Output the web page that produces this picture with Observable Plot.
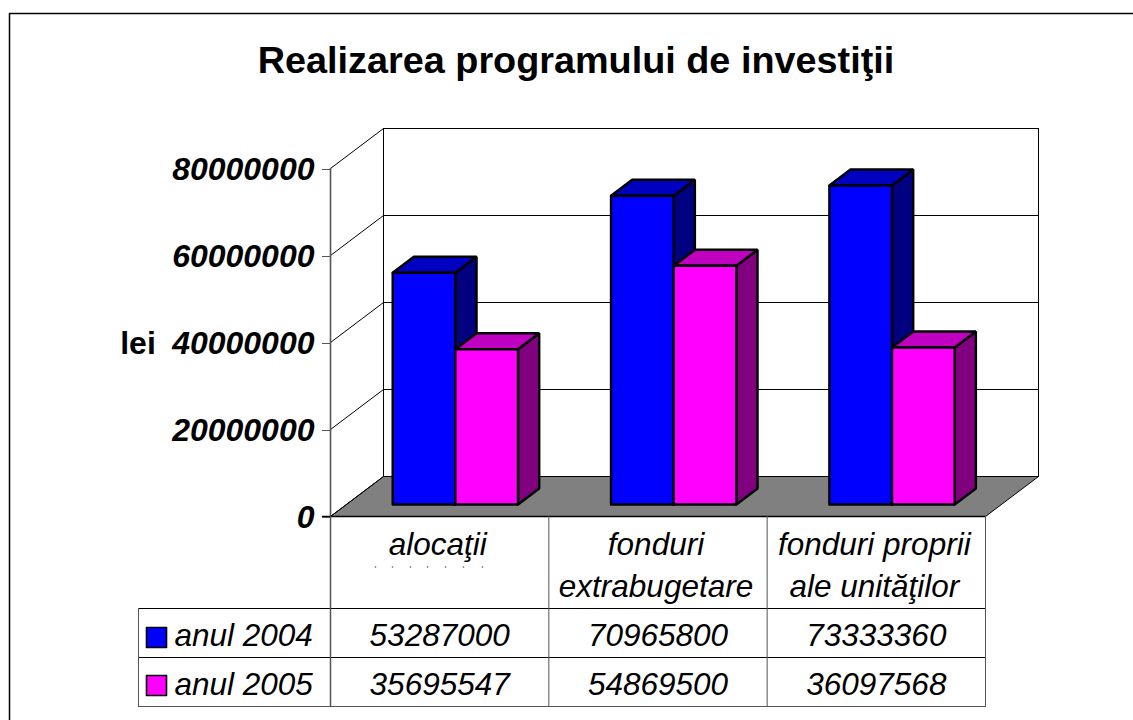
<!DOCTYPE html>
<html><head><meta charset="utf-8">
<script src="https://cdn.jsdelivr.net/npm/d3@7"></script>
<script src="https://cdn.jsdelivr.net/npm/@observablehq/plot@0.6"></script>
<style>html,body{margin:0;padding:0;background:#fff;overflow:hidden}svg{display:block}</style>
</head><body><div id="c"></div>
<script>
const categories = ["alocaţii", "fonduri\nextrabugetare", "fonduri proprii\nale unităţilor"];
const seriesNames = ["anul 2004", "anul 2005"];
const anul2004 = [53287000, 70965800, 73333360];
const anul2005 = [35695547, 54869500, 36097568];
const yTicks = [0, 20000000, 40000000, 60000000, 80000000];
const frontColors = ["#0000ff", "#ff00ff"];
const topColors = ["#0000c0", "#c000c0"];
const sideColors = ["#000080", "#800080"];

// chart scales: one x unit = one category, y = lei
const X0 = 330, X1 = 985, Y0 = 516, Y1 = 168;
const uX = d3.scaleLinear([X0, X1], [0, 3]);      // page px -> category units (table and furniture)
const uY = d3.scaleLinear([Y0, Y1], [0, 80000000]);
// oblique depth: depth 1 is the back wall
const depthX = uX(X0 + 53), depthY = uY(Y0 - 40);
const proj = (c, v, d) => ({x: c + d * depthX, y: v + d * depthY});
const barGap = 0.212, barW = 0.287, dFront = 0.3, dBack = 0.7;
const thin = {stroke: "#000", strokeWidth: 1};
const grey = {stroke: "#555", strokeWidth: 1};
const poly = (pts, o) => Plot.line([...pts, pts[0]], {x: "x", y: "y", ...o});
const seg = (pts, o) => Plot.line(pts, {x: "x", y: "y", ...o});
const P = (x, y) => ({x: uX(x), y: uY(y)});

const marks = [];
// outer frame
marks.push(seg([P(9, 720), P(9, 13), P(1133, 13)], {stroke: "#000", strokeWidth: 1.5}));
// floor
marks.push(poly([proj(0,0,0), proj(0,0,1), proj(3,0,1), proj(3,0,0)], {fill: "#808080", ...thin}));
// walls and gridlines
marks.push(seg([proj(0,0,1), proj(0,80000000,1), proj(3,80000000,1), proj(3,0,1)], thin));
for (const t of yTicks) {
  if (t > 0) marks.push(seg([proj(0,t,1), proj(3,t,1)], thin));
  marks.push(seg([proj(0,t,0), proj(0,t,1)], thin));
}
marks.push(seg([proj(0,0,0), proj(0,80000000,0)], {stroke: "#555", strokeWidth: 1.6}));
// bars
const heavy = {stroke: "#000", strokeWidth: 2.4, strokeLinejoin: "miter"};
categories.forEach((_, c) => {
  [anul2004, anul2005].forEach((vals, s) => {
    const v = vals[c], l = c + barGap + s * barW, r = l + barW;
    marks.push(poly([proj(r,0,dFront), proj(r,0,dBack), proj(r,v,dBack), proj(r,v,dFront)], {fill: sideColors[s], ...heavy}));
    marks.push(poly([proj(l,v,dFront), proj(l,v,dBack), proj(r,v,dBack), proj(r,v,dFront)], {fill: topColors[s], ...heavy}));
    marks.push(poly([proj(l,0,dFront), proj(l,v,dFront), proj(r,v,dFront), proj(r,0,dFront)], {fill: frontColors[s], ...heavy}));
  });
});
// data table
const tableLeft = 138;
marks.push(seg([P(tableLeft, 608), P(985, 608)], thin));
marks.push(seg([P(tableLeft, 657), P(985, 657)], thin));
marks.push(seg([P(tableLeft, 706), P(985, 706)], grey));
marks.push(seg([P(tableLeft, 608), P(tableLeft, 706)], grey));
marks.push(seg([P(X0 - 8, 516), P(985, 516)], {stroke: "#000", strokeWidth: 1.3}));
[0, 1, 2, 3].forEach(c => marks.push(seg([{x: c, y: uY(516)}, {x: c, y: uY(706)}], c === 0 ? {stroke:"#555",strokeWidth:1.5} : grey)));
const font = {fontFamily: "'Liberation Sans', Arial, sans-serif"};
const tableText = {...font, fontSize: 31.5, fontStyle: "italic", fill: "#000"};
categories.forEach((name, c) => {
  const lines = name.split("\n");
  lines.forEach((ln, i) => marks.push(Plot.text([ln], {x: c + 0.5, y: uY(544 + i * 42), dx: -2, text: d => d, ...tableText})));
  marks.push(Plot.text([anul2004[c]], {x: c + 0.5, y: uY(635.5), text: d => String(d), ...tableText}));
  marks.push(Plot.text([anul2005[c]], {x: c + 0.5, y: uY(684), text: d => String(d), ...tableText}));
});
// clipped second line remnants under the first category
const specks = [375, 392, 410, 427, 445, 463, 482];
marks.push(Plot.dot(specks, {x: d => uX(d), y: uY(566.5), r: 0.8, fill: "#555", stroke: null}));
// legend keys
seriesNames.forEach((name, s) => {
  const top = 627 + s * 48, l = 146, r = 166, b = top + 20;
  marks.push(poly([P(l, top), P(r, top), P(r, b), P(l, b)], {fill: frontColors[s], stroke: "#000", strokeWidth: 1.6}));
  marks.push(Plot.text([name], {x: uX(174), y: uY(635.5 + s * 48.5), text: d => d, textAnchor: "start", ...tableText}));
});
// title and y-axis title
marks.push(Plot.text(["Realizarea programului de investiţii"], {x: uX(575.5), y: uY(60), text: d => d, ...font, fontSize: 37.8, fontWeight: "bold", fill: "#000"}));
marks.push(Plot.text(["lei"], {x: uX(137.5), y: uY(343), text: d => d, ...font, fontSize: 32, fontWeight: "bold", fill: "#000"}));
// y axis
marks.push(Plot.axisY({ticks: yTicks, tickFormat: d => String(d), tickSize: 8, tickPadding: 8, label: null,
  stroke: "#555", ...font, fontSize: 32, fontWeight: "bold", fontStyle: "italic", color: "#000", textStroke: null, dy: 1}));

const chart = Plot.plot({
  width: 1133, height: 720, marginLeft: X0, marginRight: 0, marginTop: 0, marginBottom: 0,
  x: {domain: [0, 3], range: [X0, X1], axis: null},
  y: {domain: [0, 80000000], range: [Y0, Y1], axis: null},
  style: {background: "#fff", color: "#000", overflow: "visible"},
  marks
});
document.getElementById("c").appendChild(chart);
</script></body></html>
